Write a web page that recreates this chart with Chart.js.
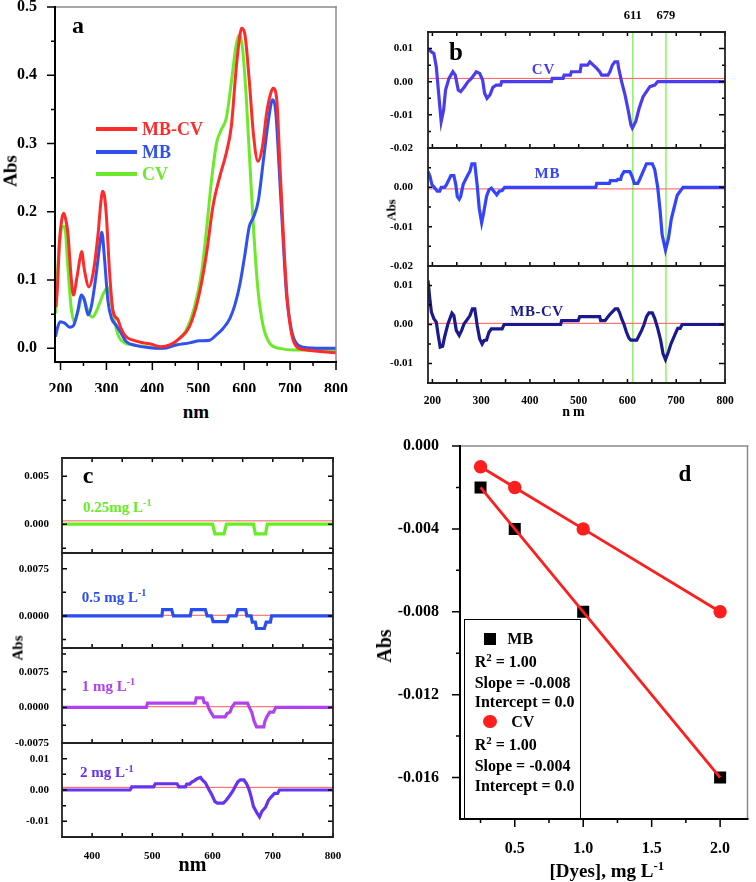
<!DOCTYPE html>
<html><head><meta charset="utf-8">
<script src="https://cdn.jsdelivr.net/npm/chart.js@4.4.1/dist/chart.umd.min.js"></script>
<style>
body{margin:0;background:#fff;width:756px;height:882px;position:relative;overflow:hidden;font-family:'Liberation Serif','Times New Roman',serif;font-weight:bold;color:#000;}
.t{position:absolute;white-space:nowrap;line-height:1;transform:translate(-50%,-50%);}
.tl{position:absolute;white-space:nowrap;line-height:1;transform:translate(0,-50%);}
.rot{transform:translate(-50%,-50%) rotate(-90deg);}
.t sup,.tl sup{font-size:0.68em;vertical-align:baseline;position:relative;top:-0.55em;}
.box{position:absolute;}
</style></head><body>
<script>
// ---------- DATA ----------
// Panel a: UV-vis spectra
const aMixX = [190,193,198,203,207,211,216,223,228,236,242,246,252,262,271,282,288,292,296,300,307,314,325,332,343,358,380,398,418,438,460,481,501,518,532,547,561,572,583,590,594,601,611,620,630,640,649,658,663,671,678,687,694,703,714,736,800];
const aMixY = [0.06,0.086,0.159,0.19,0.198,0.19,0.169,0.105,0.078,0.105,0.13,0.142,0.115,0.09,0.11,0.169,0.215,0.23,0.222,0.193,0.11,0.056,0.042,0.029,0.017,0.012,0.008,0.006,0.0025,0.005,0.015,0.032,0.076,0.139,0.208,0.252,0.286,0.325,0.413,0.455,0.469,0.462,0.393,0.315,0.274,0.296,0.345,0.374,0.381,0.364,0.266,0.144,0.071,0.022,0.0025,-0.0025,-0.0064];
const aMbX = [189,193,199,209,220,228,238,245,252,260,267,278,285,290,296,303,311,321,332,343,365,394,423,452,481,503,525,540,554,569,580,591,602,611,621,631,642,652,660,663,669,676,684,692,703,714,736,800];
const aMbY = [0.017,0.029,0.039,0.037,0.031,0.033,0.056,0.078,0.071,0.049,0.061,0.11,0.149,0.17,0.13,0.071,0.044,0.034,0.022,0.01,0.004,0.001,0,0.005,0.008,0.011,0.012,0.02,0.029,0.044,0.064,0.095,0.139,0.178,0.193,0.217,0.276,0.33,0.362,0.364,0.345,0.266,0.169,0.081,0.027,0.007,0.001,0];
const aCvX = [189,196,201,205,209,216,223,230,239,247,254,262,270,281,294,303,310,318,327,340,358,387,409,430,452,474,492,507,518,529,540,550,561,572,582,589,596,604,612,621,630,641,656,678,707,800];
const aCvY = [0.051,0.139,0.172,0.178,0.179,0.12,0.061,0.039,0.056,0.077,0.066,0.051,0.046,0.059,0.081,0.089,0.071,0.039,0.017,0.008,0.005,0.0025,0,0.0015,0.01,0.027,0.061,0.11,0.174,0.247,0.301,0.32,0.337,0.389,0.442,0.459,0.442,0.374,0.276,0.169,0.086,0.034,0.007,0,-0.0025,-0.0025];
const aXTicks = [200,300,400,500,600,700,800];
const aYTicks = [0,0.1,0.2,0.3,0.4,0.5];

// Panel b: derivative spectra
const bCvX = [191,198,203,208,214,218,223,227,234,242,247,253,258,266,273,280,290,297,303,307,312,318,324,331,340,342,444,446,468,470,483,485,503,505,518,523,530,537,543,547,560,564,569,574,580,582,588,595,602,607,610,617,624,632,639,646,656,662,800];
const bCvY = [0.010,0.009,0.0085,0.0045,-0.0055,-0.012,-0.0085,-0.0025,0.001,0.003,0.002,-0.0025,-0.003,-0.0015,0,0.001,0.003,0.0025,0.0005,-0.0035,-0.005,-0.004,-0.0017,-0.001,-0.001,0,0,0.001,0.001,0.002,0.002,0.003,0.003,0.005,0.005,0.006,0.005,0.004,0.003,0.002,0.002,0.003,0.005,0.006,0.006,0.004,0,-0.004,-0.009,-0.013,-0.014,-0.012,-0.008,-0.0045,-0.003,-0.0015,-0.001,0,0];
const bMbX = [191,195,199,205,210,215,218,225,229,232,238,244,248,251,255,258,263,268,273,277,281,287,292,296,301,305,311,316,321,326,332,337,343,348,535,537,563,565,578,580,586,588,593,605,610,614,621,625,632,639,651,656,662,667,671,678,684,690,696,702,708,714,800];
const bMbY = [0.0041,0.0028,0.0007,-0.0002,-0.001,-0.001,0,0,0.0007,0.0015,0.003,0.003,0.0007,-0.0023,-0.003,-0.0023,0.0007,0.002,0.0032,0.0041,0.006,0.006,0.0003,-0.0053,-0.009,-0.0066,-0.0023,-0.0006,-0.0002,-0.001,-0.0019,-0.001,-0.0008,0,0,0.001,0.001,0.0017,0.0017,0.002,0.002,0.003,0.004,0.004,0.0026,0.001,0.001,0.002,0.004,0.006,0.006,0.0045,0,-0.006,-0.012,-0.016,-0.013,-0.008,-0.005,-0.002,-0.001,0,0];
const bMixX = [191,195,198,203,208,212,216,221,225,232,240,244,249,255,260,265,270,277,282,287,292,297,302,306,311,316,321,343,347,463,465,499,502,543,545,554,560,567,575,580,584,588,593,598,603,607,619,623,629,634,639,644,651,656,662,668,673,678,684,689,696,703,708,712,800];
const bMixY = [0.0113,0.0062,0.0032,0.0015,0.0006,-0.0028,-0.0058,-0.0056,-0.0032,0.0002,0.0029,0.0023,-0.0015,-0.0028,-0.0015,0.0002,0.001,0.0023,0.004,0.004,-0.0003,-0.0037,-0.005,-0.0041,-0.004,-0.002,-0.0011,-0.0011,0,0,0.001,0.001,0.002,0.002,0.001,0.001,0.002,0.003,0.004,0.004,0.003,0.0015,0,-0.002,-0.0035,-0.004,-0.004,-0.003,-0.0015,0,0.002,0.003,0.003,0.0015,-0.001,-0.004,-0.0075,-0.009,-0.007,-0.005,-0.003,-0.001,-0.001,0,0];
const bRef = [0.001, -0.0004, 0.0003];
const bMarks = [611, 679];
const bXTicks = [200,300,400,500,600,700,800];
const bY1Ticks = [-0.02,-0.01,0,0.01];
const bY2Ticks = [-0.02,-0.01,0];
const bY3Ticks = [-0.01,0,0.01];

// Panel c: derivative spectra of mixtures at several concentrations
const c1X = [350,600,604,619,623,668,671,688,691,800];
const c1Y = [0,0,-0.001,-0.001,0,0,-0.001,-0.001,0,0];
const c2X = [350,516,517,532,535,563,565,588,591,598,601,624,627,639,642,655,657,664,666,671,673,686,689,696,698,800];
const c2Y = [0,0,0.001,0.001,0,0,0.001,0.001,0,0,-0.0009,-0.0009,0,0,0.001,0.001,0,0,-0.001,-0.001,-0.002,-0.002,-0.001,-0.001,0,0];
const c3X = [350,490,492,571,573,584,586,591,593,597,602,621,624,629,632,637,658,661,665,669,673,685,687,690,695,701,705,800];
const c3Y = [0,0,0.0009,0.0009,0.002,0.002,0.001,0.0009,0,-0.001,-0.002,-0.002,-0.0013,-0.001,0,0.0009,0.0009,0,-0.001,-0.0029,-0.0041,-0.0041,-0.0029,-0.002,-0.001,-0.001,0,0];
const c4X = [350,463,466,502,505,541,544,555,557,562,566,570,575,580,583,588,593,599,604,608,618,623,628,634,638,642,646,652,656,660,664,668,674,678,682,688,693,699,703,708,711,800];
const c4Y = [0,0,0.001,0.001,0.002,0.002,0.001,0.001,0.0019,0.0019,0.0026,0.003,0.0037,0.004,0.0032,0.0023,0.0005,-0.0016,-0.0037,-0.0042,-0.0042,-0.0032,-0.0019,-0.0002,0.0013,0.0026,0.0032,0.0032,0.0021,0.0005,-0.0021,-0.0053,-0.0074,-0.0086,-0.0068,-0.0055,-0.0032,-0.0019,-0.0011,-0.0011,0,0];
const cRef = [0.00035, 0.0001, 0.00014, 0.00084];
const cXTicks = [400,500,600,700,800];
const cY1Ticks = [0,0.005];
const cY2Ticks = [0,0.0075];
const cY3Ticks = [-0.0075,0,0.0075];
const cY4Ticks = [-0.01,0,0.01];

// Panel d: calibration
const dConc = [0.25,0.5,1.0,2.0];
const dMb = [-0.002,-0.004,-0.008,-0.016];
const dCv = [-0.001,-0.002,-0.004,-0.008];
const dXTicks = [0.5,1.0,1.5,2.0];
const dYTicks = [0,-0.004,-0.008,-0.012,-0.016];

// ---------- HELPERS ----------
const SERIF = "'Liberation Serif','Times New Roman',serif";
const xy = (xs, ys) => xs.map((x, i) => ({x, y: ys[i]}));
const range = (lo, hi, step) => { const r = []; for (let i = 0; lo + i*step <= hi + 1e-12; i++) r.push(+(lo + i*step).toFixed(8)); return r; };
const line = (data, color, w, extra) => Object.assign({data, borderColor: color, backgroundColor: color, borderWidth: w, showLine: true, pointRadius: 0, tension: 0, fill: false}, extra || {});

function deco(cfg) {
  return {
    id: 'deco',
    afterDatasetsDraw(chart) {
      const {ctx, chartArea: a} = chart;
      ctx.save();
      ctx.lineCap = 'butt';
      for (const t of cfg.ticks) {
        const [axis, side, vals, len, dir, w] = t;
        const sc = chart.scales[axis];
        ctx.strokeStyle = '#000'; ctx.lineWidth = w || 1.5;
        ctx.beginPath();
        for (const v of vals) {
          const p = sc.getPixelForValue(v);
          if (side === 'bottom') { ctx.moveTo(p, a.bottom); ctx.lineTo(p, a.bottom + dir*len); }
          if (side === 'top') { ctx.moveTo(p, a.top); ctx.lineTo(p, a.top - dir*len); }
          if (side === 'left') { ctx.moveTo(a.left, p); ctx.lineTo(a.left - dir*len, p); }
          if (side === 'right') { ctx.moveTo(a.right, p); ctx.lineTo(a.right + dir*len, p); }
        }
        ctx.stroke();
      }
      const f = cfg.frame;
      const seg = (c, w, x1, y1, x2, y2) => { ctx.strokeStyle = c; ctx.lineWidth = w; ctx.beginPath(); ctx.moveTo(x1, y1); ctx.lineTo(x2, y2); ctx.stroke(); };
      ctx.lineCap = 'square';
      if (f.top) seg(f.top[0], f.top[1], a.left, a.top, a.right, a.top);
      if (f.right) seg(f.right[0], f.right[1], a.right, a.top, a.right, a.bottom);
      if (f.left) seg(f.left[0], f.left[1], a.left, a.top, a.left, a.bottom);
      if (f.bottom) seg(f.bottom[0], f.bottom[1], a.left, a.bottom, a.right, a.bottom);
      ctx.restore();
    }
  };
}

function tickFont(size) { return {family: SERIF, weight: 'bold', size}; }

function build(o) {
  const W = o.plot.w + o.m.l + o.m.r, H = o.plot.h + o.m.t + o.m.b;
  const cv = document.createElement('canvas');
  cv.width = W; cv.height = H;
  Object.assign(cv.style, {position: 'absolute', left: (o.plot.x - o.m.l) + 'px', top: (o.plot.y - o.m.t) + 'px', width: W + 'px', height: H + 'px'});
  document.body.appendChild(cv);
  const scales = {
    x: {type: 'linear', min: o.xr[0], max: o.xr[1], display: !!o.xTicks, position: 'bottom',
      afterFit: s => { s.height = o.m.b; },
      afterBuildTicks: s => { if (o.xTicks) s.ticks = o.xTicks.map(v => ({value: v})); },
      grid: {display: false}, border: {display: false},
      ticks: {autoSkip: false, maxRotation: 0, minRotation: 0, padding: o.xPad || 0, color: '#000', font: tickFont(o.xFont || 12),
        callback: v => o.xDec != null ? Number(v).toFixed(o.xDec) : String(v)}},
    y: {type: 'linear', min: o.yr[0], max: o.yr[1], position: 'left',
      afterFit: s => { s.width = o.m.l; },
      afterBuildTicks: s => { s.ticks = o.yTicks.map(v => ({value: v})); },
      grid: {display: false}, border: {display: false},
      ticks: {autoSkip: false, padding: o.yPad, color: '#000', font: tickFont(o.yFont),
        callback: v => Number(v).toFixed(o.yDec)}}
  };
  if (o.topTicks) {
    scales.x2 = {type: 'linear', min: o.xr[0], max: o.xr[1], position: 'top',
      afterFit: s => { s.height = o.m.t; },
      afterBuildTicks: s => { s.ticks = o.topTicks.map(v => ({value: v})); },
      grid: {display: false}, border: {display: false},
      ticks: {autoSkip: false, maxRotation: 0, minRotation: 0, padding: 1, color: '#000', font: tickFont(12.5), callback: v => String(v)}};
  }
  return new Chart(cv, {
    type: 'scatter',
    data: {datasets: o.datasets},
    options: {responsive: false, animation: false, events: [],
      layout: {padding: {left: 0, right: o.m.r, top: o.topTicks ? 0 : o.m.t, bottom: 0}},
      plugins: {legend: {display: false}, tooltip: {enabled: false}},
      scales},
    plugins: [deco(o.deco)]
  });
}

function text(html, x, y, size, cls, extra) {
  const d = document.createElement('div');
  d.className = cls;
  d.innerHTML = html;
  d.style.left = x + 'px'; d.style.top = y + 'px'; d.style.fontSize = size + 'px';
  if (extra) Object.assign(d.style, extra);
  document.body.appendChild(d);
  return d;
}
function box(x, y, w, h, style) {
  const d = document.createElement('div');
  d.className = 'box';
  Object.assign(d.style, {left: x + 'px', top: y + 'px', width: w + 'px', height: h + 'px'}, style);
  document.body.appendChild(d);
}

// ---------- PANEL A ----------
const RED = '#ff2a2a', BLUE = '#3050f0', GREEN = '#6cea2a';
build({
  plot: {x: 55, y: 7, w: 281, h: 355}, m: {l: 55, r: 24, t: 24, b: 30},
  xr: [188, 800], yr: [-0.02, 0.5],
  xTicks: aXTicks, xFont: 16, xPad: 10,
  yTicks: aYTicks, yDec: 1, yFont: 16, yPad: 10,
  datasets: [
    line(xy(aMixX, aMixY), RED, 3, {cubicInterpolationMode: 'monotone'}),
    line(xy(aMbX, aMbY), BLUE, 3, {cubicInterpolationMode: 'monotone'}),
    line(xy(aCvX, aCvY), GREEN, 3, {cubicInterpolationMode: 'monotone'})
  ],
  deco: {frame: {top: ['#8a8a8a', 1.5], right: ['#8a8a8a', 1.5], left: ['#000', 2], bottom: ['#000', 2]},
    ticks: [['x', 'bottom', aXTicks, 8, 1], ['x', 'bottom', range(250, 750, 100), 4, 1],
            ['y', 'left', aYTicks, 8, 1], ['y', 'left', range(0.05, 0.45, 0.1), 4, 1]]}
});

// ---------- PANEL B ----------
const bCols = ['#4a3cf0', '#3344ff', '#1a1a90'];
const bSeries = [[bCvX, bCvY], [bMbX, bMbY], [bMixX, bMixY]];
const bRanges = [[-0.02, 0.015], [-0.02, 0.01], [-0.015, 0.015]];
const bYT = [bY1Ticks, bY2Ticks, bY3Ticks];
const bMinorY = [[-0.015, -0.005, 0.005], [-0.015, -0.005, 0.005], [-0.005, 0.005]];
const bPlots = [{x: 428, y: 32, w: 297, h: 116}, {x: 428, y: 148, w: 297, h: 118}, {x: 428, y: 266, w: 297, h: 117}];
const bXr = [191, 800];
const bMinorX = range(250, 750, 100);
bPlots.forEach((p, i) => {
  const yr = bRanges[i];
  const last = i === 2, first = i === 0;
  const ticks = [
    ['x', 'bottom', bXTicks, 4, -1], ['x', 'bottom', bMinorX, 4, -1],
    ['y', 'left', bYT[i], 4, -1], ['y', 'left', bMinorY[i], 3, -1],
    ['y', 'right', bYT[i], 6, -1], ['y', 'right', bMinorY[i], 3, -1]
  ];
  if (first) ticks.push(['x', 'top', bXTicks, 4, -1], ['x', 'top', bMinorX, 4, -1]);
  build({
    plot: p, m: {l: 50, r: 18, t: first ? 24 : 22, b: last ? 22 : 20},
    xr: bXr, yr,
    xTicks: last ? bXTicks : null, xFont: 11.5, xPad: 3,
    topTicks: first ? bMarks : null,
    yTicks: bYT[i], yDec: 2, yFont: 11, yPad: 7,
    datasets: [
      line(xy(bSeries[i][0], bSeries[i][1]), bCols[i], 3.2),
      line([{x: bXr[0], y: bRef[i]}, {x: bXr[1], y: bRef[i]}], '#ff5a5a', 1),
      line([{x: bMarks[0], y: yr[0]}, {x: bMarks[0], y: yr[1]}], '#8ef06a', 1.5),
      line([{x: bMarks[1], y: yr[0]}, {x: bMarks[1], y: yr[1]}], '#8ef06a', 1.5)
    ],
    deco: {frame: {top: ['#222', 1.8], right: ['#222', 1.8], left: ['#222', 1.8], bottom: ['#222', 1.8]}, ticks}
  });
});

// ---------- PANEL C ----------
const cCols = ['#66ee22', '#2a4ef0', '#b040f0', '#6633ee'];
const cSeries = [[c1X, c1Y], [c2X, c2Y], [c3X, c3Y], [c4X, c4Y]];
const cRanges = [[-0.003, 0.0069], [-0.0051, 0.01], [-0.0075, 0.0125], [-0.015, 0.015]];
const cYT = [cY1Ticks, cY2Ticks, cY3Ticks, cY4Ticks];
const cDec = [3, 4, 4, 2];
const cMinorY = [[-0.0025, 0.0025], [-0.00375, 0.00375], [-0.00375, 0.00375, 0.01125], [-0.005, 0.005]];
const cPlots = [{x: 62, y: 458, w: 271, h: 95}, {x: 62, y: 553, w: 271, h: 95}, {x: 62, y: 648, w: 271, h: 95}, {x: 62, y: 743, w: 271, h: 94}];
const cXr = [350, 800];
const cMinorX = range(450, 750, 100);
cPlots.forEach((p, i) => {
  const last = i === 3, first = i === 0;
  const ticks = [
    ['x', 'bottom', cXTicks, 4, -1], ['x', 'bottom', cMinorX, 4, -1],
    ['y', 'left', cYT[i], 5, -1], ['y', 'left', cMinorY[i], 4, -1],
    ['y', 'right', cYT[i], 5, -1], ['y', 'right', cMinorY[i], 4, -1]
  ];
  if (first) ticks.push(['x', 'top', cXTicks, 4, -1], ['x', 'top', cMinorX, 4, -1]);
  build({
    plot: p, m: {l: 62, r: 18, t: 20, b: last ? 28 : 20},
    xr: cXr, yr: cRanges[i],
    xTicks: last ? cXTicks : null, xFont: 11, xPad: 4.5,
    yTicks: cYT[i], yDec: cDec[i], yFont: 11, yPad: 5,
    datasets: [
      line(xy(cSeries[i][0], cSeries[i][1]), cCols[i], 3.2),
      line([{x: cXr[0], y: cRef[i]}, {x: cXr[1], y: cRef[i]}], '#ff5a5a', 1)
    ],
    deco: {frame: {top: ['#222', 1.8], right: ['#222', 1.8], left: ['#222', 1.8], bottom: ['#222', 1.8]}, ticks}
  });
});

// ---------- PANEL D ----------
const DRED = '#ff1e1e';
build({
  plot: {x: 460, y: 446, w: 293, h: 373}, m: {l: 82, r: 3, t: 26, b: 40},
  xr: [0.1, 2.2], yr: [-0.018, 0],
  xTicks: dXTicks, xDec: 1, xFont: 16, xPad: 12,
  yTicks: dYTicks, yDec: 3, yFont: 16, yPad: 13,
  datasets: [
    line(xy(dConc, dMb), DRED, 2.8, {order: 0}),
    line(xy(dConc, dCv), DRED, 2.8, {order: 0}),
    {data: xy(dConc, dMb), showLine: false, pointStyle: 'rect', pointRadius: 8.5, backgroundColor: '#000', borderColor: '#000', borderWidth: 0, order: 1},
    {data: xy(dConc, dCv), showLine: false, pointStyle: 'circle', pointRadius: 6.7, backgroundColor: DRED, borderColor: DRED, borderWidth: 0, order: 1}
  ],
  deco: {frame: {top: ['#8a8a8a', 1.5], right: ['#8a8a8a', 1.5], left: ['#000', 2], bottom: ['#000', 2]},
    ticks: [['x', 'bottom', dXTicks, 8, 1], ['x', 'bottom', [0.25, 0.75, 1.25, 1.75], 4, 1],
            ['y', 'left', dYTicks, 8, 1], ['y', 'left', [-0.002, -0.006, -0.010, -0.014], 4, 1]]}
});

// ---------- TEXT & LEGENDS ----------
// panel a
text('a', 78, 25, 24, 't');
[[RED, 'MB-CV', 128.8], [BLUE, 'MB', 151.5], [GREEN, 'CV', 173.5]].forEach(([c, s, y]) => {
  box(96, y - 2, 41, 4, {background: c});
  text(s, 142, y, 18, 'tl', {color: c});
});
text('Abs', 10, 171, 19, 't rot');
text('nm', 196, 411, 19, 't');

// panel b
text('b', 456, 50.5, 25, 't');
text('CV', 543.5, 69, 15, 't', {color: bCols[0], letterSpacing: '1px'});
text('MB', 547.5, 173.3, 15, 't', {color: bCols[1], letterSpacing: '1px'});
text('MB-CV', 537, 311, 15, 't', {color: bCols[2], letterSpacing: '0.5px'});
text('Abs', 391, 210, 13, 't rot');
text('nm', 575, 411.5, 14, 't', {letterSpacing: '3px'});

// panel c
text('c', 88, 475, 24, 't');
text('0.25mg L<sup>-1</sup>', 83, 506.7, 15, 'tl', {color: cCols[0]});
text('0.5 mg L<sup>-1</sup>', 81.7, 596.7, 15, 'tl', {color: cCols[1]});
text('1 mg L<sup>-1</sup>', 81.7, 685.7, 15, 'tl', {color: cCols[2]});
text('2 mg L<sup>-1</sup>', 80, 772.3, 15, 'tl', {color: cCols[3]});
text('Abs', 17.5, 648, 15, 't rot');
text('nm', 192.5, 863.6, 20, 't');

// panel d
text('d', 685, 472.8, 23, 't');
box(464, 619, 117, 200, {border: '1px solid #000', boxSizing: 'border-box'});
box(484, 632.7, 12, 12, {background: '#000'});
text('MB', 507.3, 638.7, 16, 'tl');
text('R<sup>2</sup> = 1.00', 474.7, 662, 16, 'tl');
text('Slope = -0.008', 474.7, 682.5, 16, 'tl');
text('Intercept = 0.0', 474.7, 702.3, 16, 'tl');
box(483.3, 715, 13.4, 13.4, {background: DRED, borderRadius: '50%'});
text('CV', 511.3, 721.7, 16, 'tl');
text('R<sup>2</sup> = 1.00', 474.7, 745, 16, 'tl');
text('Slope = -0.004', 474.7, 765.7, 16, 'tl');
text('Intercept = 0.0', 474.7, 786, 16, 'tl');
text('Abs', 384, 646, 20, 't rot');
text('[Dyes], mg L<sup>-1</sup>', 606.8, 870, 19, 't');
</script>
</body></html>
